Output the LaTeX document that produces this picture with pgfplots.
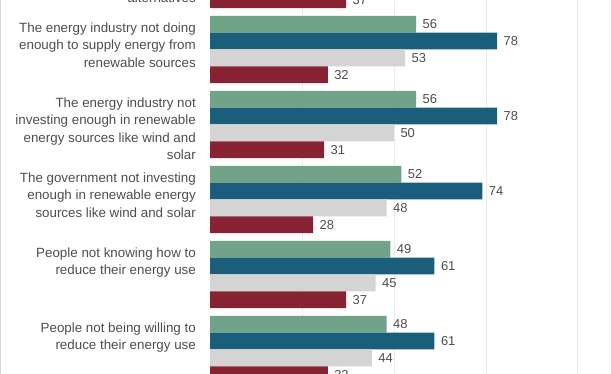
\documentclass[border=0pt]{standalone}
\usepackage{pgfplots}
\pgfplotsset{compat=1.18}
\usepackage{fontspec}
\setmainfont{Liberation Sans}
\definecolor{cgreen}{HTML}{70A387}
\definecolor{cblue}{HTML}{1A5E7C}
\definecolor{cgray}{HTML}{D4D4D4}
\definecolor{cred}{HTML}{872332}
\definecolor{ctext}{HTML}{4D4D4D}
\definecolor{cgrid}{HTML}{EBEBEB}
\begin{document}
\begin{tikzpicture}
\begin{axis}[
  scale only axis,
  width=368bp, height=450bp,
  xmin=0, xmax=100,
  ymin=-5.5, ymax=0.5,
  xbar, bar width=16.8bp,
  clip=false,
  axis line style={draw=none},
  xtick={25,50,75,100}, xticklabels={},
  xmajorgrids, grid style={cgrid, line width=1bp},
  major tick length=0pt,
  ytick={-1,-2,-3,-4,-5},
  yticklabels={
    {The energy industry not doing\\enough to supply energy from\\renewable sources},
    {The energy industry not\\investing enough in renewable\\energy sources like wind and\\solar},
    {The government not investing\\enough in renewable energy\\sources like wind and solar},
    {People not knowing how to\\reduce their energy use},
    {People not being willing to\\reduce their energy use}},
  yticklabel style={anchor=north east, align=right, inner sep=0pt,
    font=\fontsize{13.4}{17.5}\selectfont, text=ctext, xshift=-14bp, yshift=27bp},
  extra y ticks={0},
  extra y tick labels={{Energy companies being\\unwilling to invest in\\renewable energy\\alternatives}},
  extra y tick style={yticklabel style={yshift=7bp}},
  nodes near coords,
  every node near coord/.append style={font=\fontsize{13}{15}\selectfont, text=ctext, xshift=3bp,
    /pgf/number format/assume math mode=true},
]
\addplot[fill=cgreen, draw=none, bar shift=25.2bp] coordinates {(56,-1) (56,-2) (52,-3) (49,-4) (48,-5)};
\addplot[fill=cblue, draw=none, bar shift=8.4bp] coordinates {(78,-1) (78,-2) (74,-3) (61,-4) (61,-5)};
\addplot[fill=cgray, draw=none, bar shift=-8.4bp] coordinates {(53,-1) (50,-2) (48,-3) (45,-4) (44,-5)};
\addplot[fill=cred, draw=none, bar shift=-25.2bp] coordinates {(37,0) (32,-1) (31,-2) (28,-3) (37,-4) (32,-5)};
\coordinate (tl) at (axis cs:-57.07,-0.34);
\coordinate (br) at (axis cs:109.24,-5.3267);
\coordinate (l1) at (axis cs:-56.85,-0.34);
\coordinate (l2) at (axis cs:-56.85,-5.3267);
\coordinate (r1) at (axis cs:108.97,-0.34);
\coordinate (r2) at (axis cs:108.97,-5.3267);
\end{axis}
\draw[color=cgrid!80!gray, line width=0.8bp] (l1) -- (l2);
\draw[color=cgrid!80!gray, line width=0.8bp] (r1) -- (r2);
\pgfresetboundingbox
\path[use as bounding box] (tl) rectangle (br);
\end{tikzpicture}
\end{document}
